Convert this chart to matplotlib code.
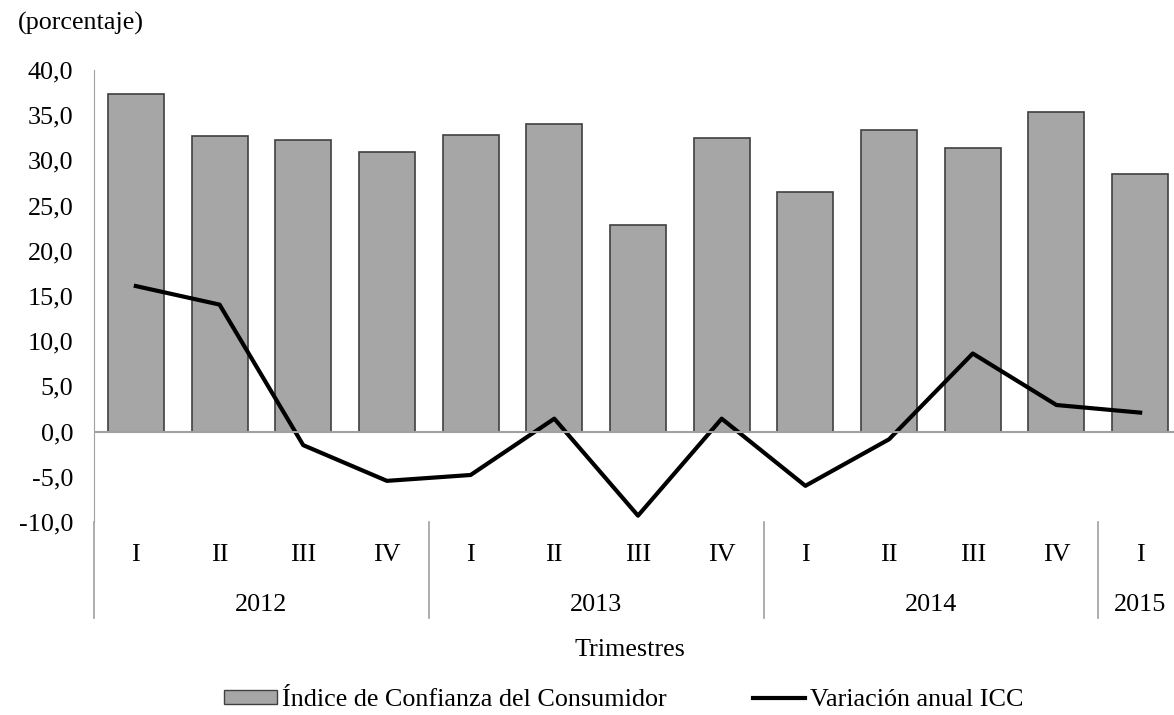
import matplotlib.pyplot as plt
import matplotlib.transforms as mtransforms
from matplotlib.patches import Patch
from matplotlib.lines import Line2D
import numpy as np

plt.rcParams['font.family'] = ['Liberation Serif', 'DejaVu Serif']

trimestres = ['I', 'II', 'III', 'IV', 'I', 'II', 'III', 'IV', 'I', 'II', 'III', 'IV', 'I']
anios = ['2012', '2013', '2014', '2015']
trim_por_anio = [4, 4, 4, 1]
icc = [37.3, 32.7, 32.3, 30.9, 32.8, 34.0, 22.85, 32.5, 26.5, 33.4, 31.4, 35.4, 28.5]
variacion = [16.1, 14.05, -1.5, -5.45, -4.8, 1.43, -9.3, 1.43, -6.0, -0.85, 8.64, 2.94, 2.1]

fs = 18.8

fig = plt.figure(figsize=(11.74, 7.15), dpi=100)
ax = fig.add_axes([94/1174, 1-522/715, (1182-94)/1174, (522-70)/715])

x = np.arange(len(icc))
ax.bar(x, icc, width=0.67, color='#a6a6a6', edgecolor='#404040', linewidth=1.2, zorder=2)
ax.plot(x, variacion, color='black', linewidth=3, zorder=3)

ax.set_xlim(-0.5, len(icc) - 0.5)
ax.set_ylim(-10, 40)
ax.set_yticks(np.arange(-10, 41, 5))
ax.set_yticklabels([f'{v:.1f}'.replace('.', ',') for v in np.arange(-10, 41, 5)], fontsize=fs)
ax.tick_params(axis='y', length=0, pad=15)
ax.set_xticks([])

for s in ['top', 'right', 'bottom']:
    ax.spines[s].set_visible(False)
ax.spines['left'].set_color('#a0a0a0')
ax.axhline(0, color='#a0a0a0', linewidth=1.5, zorder=4)

# etiquetas de categorias (trimestres y años)
trans = mtransforms.blended_transform_factory(ax.transData, fig.transFigure)
for i, t in enumerate(trimestres):
    ax.text(i, 1-555/715, t, transform=trans, ha='center', va='center', fontsize=fs)

inicio = 0
bordes = [inicio]
for anio, n in zip(anios, trim_por_anio):
    centro = inicio + (n - 1) / 2
    ax.text(centro, 1-605/715, anio, transform=trans, ha='center', va='center', fontsize=fs)
    inicio += n
    bordes.append(inicio)
for b in bordes[:-1]:
    ax.add_line(Line2D([b - 0.5, b - 0.5], [1-522/715, 1-618/715], transform=trans,
                       color='#a0a0a0', linewidth=1.2, clip_on=False))

fig.text(630/1174, 1-650/715, 'Trimestres', ha='center', va='center', fontsize=fs)
fig.text(18/1174, 1-23/715, '(porcentaje)', ha='left', va='center', fontsize=fs)

handles = [Patch(facecolor='#a6a6a6', edgecolor='#404040', label='Índice de Confianza del Consumidor'),
           Line2D([], [], color='black', linewidth=3, label='Variación anual ICC')]
fig.legend(handles=handles, loc='center', bbox_to_anchor=(624/1174, 1-700/715), ncol=2,
           frameon=False, fontsize=fs, columnspacing=3.3, handlelength=2.0, handleheight=0.45,
           handletextpad=0.2)

plt.savefig('out.png', dpi=100)
